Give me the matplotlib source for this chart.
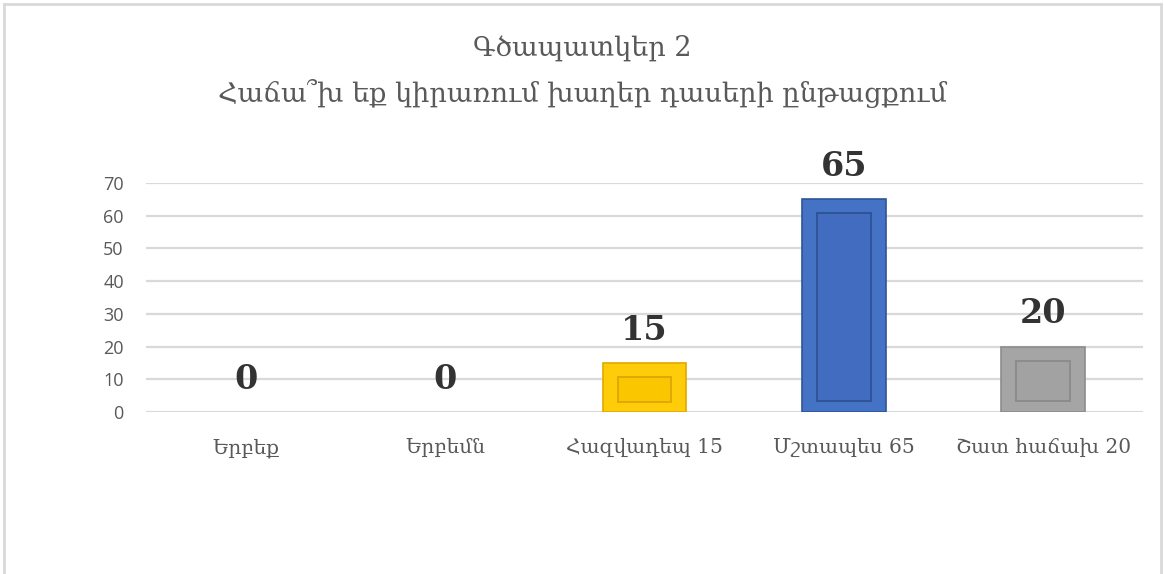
import matplotlib.pyplot as plt
from matplotlib.lines import Line2D

categories = ['Երբեք', 'Երբեմն', 'Հազվադեպ 15', 'Մշտապես 65', 'Շատ հաճախ 20']
values = [0, 0, 15, 65, 20]
face_colors = ['#FFC000', '#FFC000', '#FFCC0A', '#4472C4', '#A5A5A5']
edge_colors = ['#D9A300', '#D9A300', '#E0A800', '#2F5597', '#8C8C8C']
inner_colors = ['#F2B800', '#F2B800', '#FAC600', '#416CC0', '#A2A2A2']
yticks = [0, 10, 20, 30, 40, 50, 60, 70]
title = 'Գծապատկեր 2\nՀաճա՞խ եք կիրառում խաղեր դասերի ընթացքում'

serif = ['DejaVu Serif', 'DejaVu Sans']
gray = '#595959'

fig = plt.figure(figsize=(11.64, 5.74), dpi=100)
ax = fig.add_axes([146 / 1164, 1 - 412 / 574, (1143 - 146) / 1164, (412 - 183) / 574])

x = list(range(len(categories)))
# zero bars drawn without edge so nothing shows on the baseline
lw = [1.2 if v > 0 else 0 for v in values]
ax.bar(x, values, width=0.42, color=face_colors, edgecolor=edge_colors, linewidth=lw, zorder=3)

# inner bevel panel
for xi, v, fc, ec in zip(x, values, inner_colors, edge_colors):
    if v <= 0:
        continue
    inset = min(4.3, v * 0.28)
    ax.bar(xi, v - 2 * inset + 1.0, bottom=inset - 1.0, width=0.27, color=fc,
           edgecolor=ec, linewidth=1.4, zorder=4)

for xi, v in zip(x, values):
    ax.text(xi, v + 10, str(v), ha='center', va='center', fontsize=24,
            fontweight='heavy', family=serif, color='#333333', zorder=5, clip_on=False)

ax.set_xlim(-0.5, len(categories) - 0.5)
ax.set_ylim(0, 70)
ax.set_yticks(yticks)
ax.set_yticklabels([str(t) for t in yticks], fontsize=13, color=gray, family='Open Sans')
ax.set_xticks(x)
ax.set_xticklabels(categories, fontsize=14.5, color=gray, family=serif)
ax.tick_params(axis='both', length=0)
ax.tick_params(axis='y', pad=16)
ax.tick_params(axis='x', pad=19)
ax.yaxis.grid(True, color='#D9D9D9', linewidth=1.6, zorder=0)
ax.set_axisbelow(True)
for s in ax.spines.values():
    s.set_visible(False)

fig.text(0.5, 1 - 71 / 574, title, ha='center', va='center', fontsize=19.5,
         color=gray, family=serif, linespacing=1.75)

# outer chart border
bc = '#D9D9D9'
fig.add_artist(Line2D([4 / 1164, 4 / 1164], [0, 1 - 4 / 574], color=bc, lw=2, transform=fig.transFigure))
fig.add_artist(Line2D([4 / 1164, 1161 / 1164], [1 - 4 / 574, 1 - 4 / 574], color=bc, lw=2, transform=fig.transFigure))
fig.add_artist(Line2D([1161 / 1164, 1161 / 1164], [0, 1 - 4 / 574], color=bc, lw=2, transform=fig.transFigure))

fig.savefig('out.png', dpi=100)
